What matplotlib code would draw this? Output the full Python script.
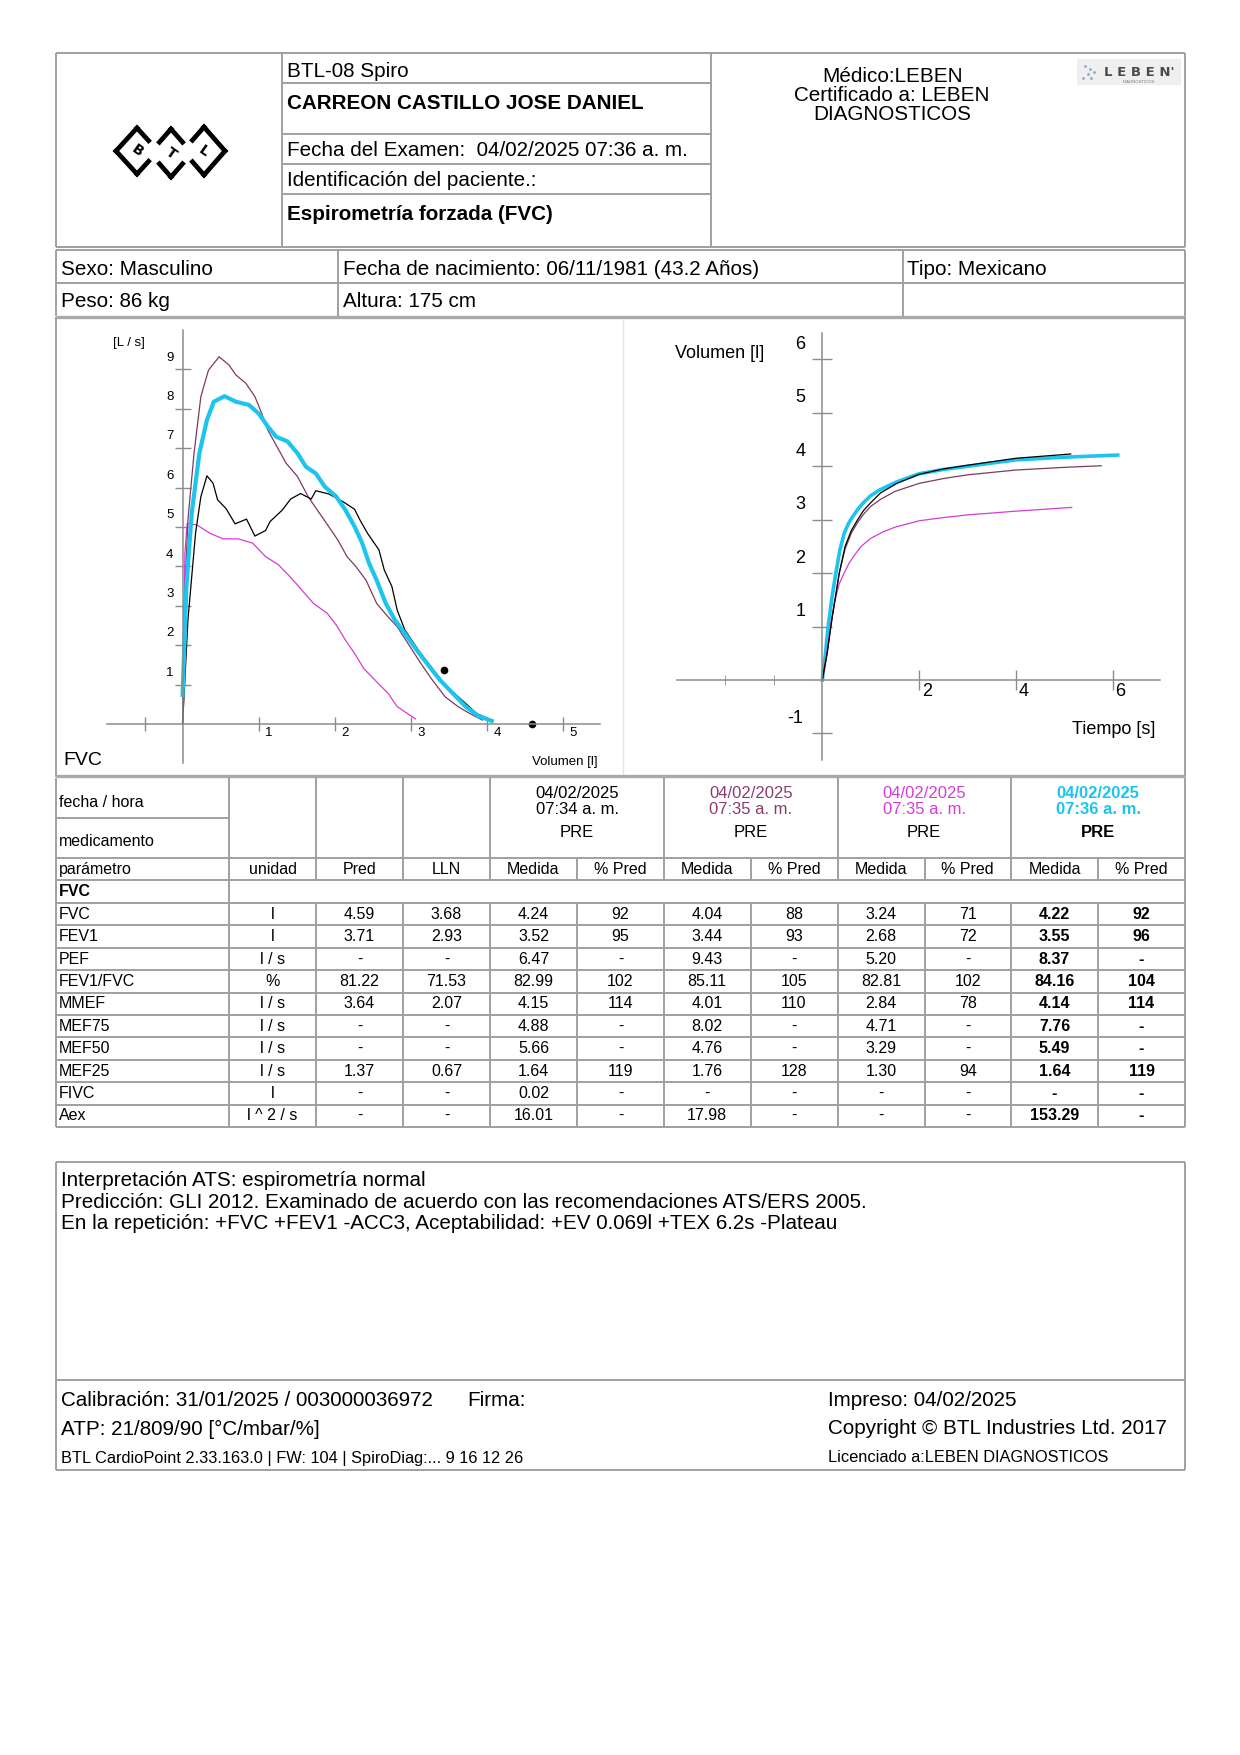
import matplotlib
matplotlib.use('Agg')
import matplotlib.pyplot as plt

plt.rcParams['font.family'] = ['Liberation Sans', 'DejaVu Sans']

W, H = 1240, 1755

# ---------------- data ----------------
patient_lines = ['BTL-08 Spiro', 'CARREON CASTILLO JOSE DANIEL',
                 'Fecha del Examen:  04/02/2025 07:36 a. m.',
                 'Identificación del paciente.:', 'Espirometría forzada (FVC)']
doctor_lines = 'Médico:LEBEN\nCertificado a: LEBEN\nDIAGNOSTICOS'

trial_dates = ['04/02/2025\n07:34 a. m.', '04/02/2025\n07:35 a. m.',
               '04/02/2025\n07:35 a. m.', '04/02/2025\n07:36 a. m.']
trial_colors = ['#000000', '#8E3A6E', '#D63CD6', '#1DC4EE']

params = ['FVC', 'FEV1', 'PEF', 'FEV1/FVC', 'MMEF', 'MEF75', 'MEF50', 'MEF25', 'FIVC', 'Aex']
units = ['l', 'l', 'l / s', '%', 'l / s', 'l / s', 'l / s', 'l / s', 'l', 'l ^ 2 / s']
pred = ['4.59', '3.71', '-', '81.22', '3.64', '-', '-', '1.37', '-', '-']
lln = ['3.68', '2.93', '-', '71.53', '2.07', '-', '-', '0.67', '-', '-']
t1_med = ['4.24', '3.52', '6.47', '82.99', '4.15', '4.88', '5.66', '1.64', '0.02', '16.01']
t1_pct = ['92', '95', '-', '102', '114', '-', '-', '119', '-', '-']
t2_med = ['4.04', '3.44', '9.43', '85.11', '4.01', '8.02', '4.76', '1.76', '-', '17.98']
t2_pct = ['88', '93', '-', '105', '110', '-', '-', '128', '-', '-']
t3_med = ['3.24', '2.68', '5.20', '82.81', '2.84', '4.71', '3.29', '1.30', '-', '-']
t3_pct = ['71', '72', '-', '102', '78', '-', '-', '94', '-', '-']
t4_med = ['4.22', '3.55', '8.37', '84.16', '4.14', '7.76', '5.49', '1.64', '-', '153.29']
t4_pct = ['92', '96', '-', '104', '114', '-', '-', '119', '-', '-']

# flow-volume loops (volume l, flow l/s)
fv_black_vol = [0, 0.07, 0.17, 0.24, 0.32, 0.40, 0.46, 0.57, 0.69, 0.84, 0.95, 1.09, 1.15, 1.31, 1.42, 1.55,
                1.69, 1.75, 1.92, 2.11, 2.26, 2.33, 2.43, 2.58, 2.65, 2.75, 2.82, 2.92, 3.11, 3.26, 3.47, 3.67,
                3.86, 4.08]
fv_black_flow = [0, 2.64, 4.84, 5.77, 6.30, 6.11, 5.69, 5.47, 5.08, 5.20, 4.77, 4.91, 5.14, 5.43, 5.71, 5.85,
                 5.71, 5.92, 5.84, 5.64, 5.45, 5.18, 4.84, 4.42, 3.91, 3.49, 2.89, 2.39, 1.84, 1.46, 0.95, 0.61,
                 0.27, 0.08]
fv_maroon_vol = [0, 0.015, 0.07, 0.15, 0.24, 0.34, 0.48, 0.61, 0.70, 0.83, 0.95, 1.04, 1.12, 1.24, 1.36, 1.51,
                 1.65, 1.77, 1.92, 2.04, 2.16, 2.28, 2.41, 2.55, 2.70, 2.82, 2.96, 3.13, 3.28, 3.45, 3.62, 3.77,
                 3.94]
fv_maroon_flow = [0, 2.64, 5.18, 6.87, 8.31, 8.98, 9.32, 9.11, 8.86, 8.65, 8.31, 7.88, 7.46, 7.04, 6.62, 6.28,
                  5.77, 5.43, 5.01, 4.67, 4.25, 3.99, 3.65, 3.06, 2.72, 2.47, 2.05, 1.54, 1.12, 0.69, 0.44, 0.27,
                  0.10]
fv_magenta_vol = [0, 0.03, 0.06, 0.19, 0.36, 0.53, 0.73, 0.92, 1.09, 1.26, 1.43, 1.72, 1.90, 2.02, 2.14, 2.26,
                  2.38, 2.55, 2.70, 2.82, 3.06]
fv_magenta_flow = [0, 4.33, 5.09, 5.05, 4.84, 4.70, 4.70, 4.59, 4.25, 4.04, 3.70, 3.06, 2.81, 2.51, 2.13, 1.79,
                   1.41, 1.07, 0.78, 0.44, 0.13]
fv_cyan_vol = [0, 0.05, 0.12, 0.22, 0.32, 0.41, 0.55, 0.70, 0.87, 1.0, 1.12, 1.23, 1.38, 1.51, 1.62, 1.75, 1.87,
               2.02, 2.14, 2.26, 2.36, 2.45, 2.55, 2.67, 2.79, 2.92, 3.06, 3.21, 3.38, 3.55, 3.72, 3.89, 4.06]
fv_cyan_flow = [0.74, 3.49, 5.35, 6.87, 7.72, 8.18, 8.32, 8.18, 8.10, 7.88, 7.55, 7.29, 7.17, 6.87, 6.53, 6.36,
                6.02, 5.77, 5.43, 5.01, 4.59, 4.08, 3.65, 3.06, 2.64, 2.30, 1.92, 1.54, 1.12, 0.78, 0.44, 0.20, 0.08]
pred_vol = [3.44, 4.59]
pred_flow = [1.37, 0]

# volume-time curves (s, l)
vt_black_t = [0, 0.1, 0.2, 0.28, 0.35, 0.47, 0.6, 0.73, 0.85, 0.98, 1.2, 1.54, 2.0, 2.5, 3, 4, 5.13]
vt_black_v = [0, 0.5, 1.15, 1.6, 2.0, 2.5, 2.8, 3.0, 3.17, 3.3, 3.5, 3.68, 3.85, 3.95, 4.02, 4.15, 4.23]
vt_maroon_t = [0, 0.1, 0.2, 0.28, 0.35, 0.47, 0.6, 0.73, 0.85, 1.0, 1.2, 1.5, 2, 2.5, 3, 4, 5, 5.76]
vt_maroon_v = [0, 0.5, 1.15, 1.6, 2.0, 2.45, 2.75, 2.95, 3.1, 3.25, 3.38, 3.53, 3.68, 3.77, 3.84, 3.93, 3.98, 4.01]
vt_magenta_t = [0, 0.1, 0.17, 0.25, 0.35, 0.45, 0.55, 0.65, 0.8, 1.0, 1.25, 1.5, 2, 2.5, 3, 4, 5.15]
vt_magenta_v = [0, 0.55, 1.0, 1.45, 1.8, 2.0, 2.18, 2.32, 2.5, 2.65, 2.77, 2.86, 2.98, 3.04, 3.09, 3.16, 3.23]
vt_cyan_t = [0, 0.06, 0.12, 0.2, 0.28, 0.36, 0.45, 0.54, 0.63, 0.73, 0.84, 1.0, 1.19, 1.54, 2.0, 2.5, 3.0, 3.5,
             4.0, 5.0, 6.1]
vt_cyan_v = [0, 0.45, 1.0, 1.55, 2.0, 2.42, 2.74, 2.93, 3.06, 3.19, 3.31, 3.45, 3.56, 3.71, 3.86, 3.94, 4.0, 4.06,
             4.12, 4.17, 4.21]

interp_lines = ['Interpretación ATS: espirometría normal',
                'Predicción: GLI 2012. Examinado de acuerdo con las recomendaciones ATS/ERS 2005.',
                'En la repetición: +FVC +FEV1 -ACC3, Aceptabilidad: +EV 0.069l +TEX 6.2s -Plateau']

# ---------------- page ----------------
GRID = '#A0A0A0'
AX = '#8C8C8C'
FH = 14.9
FT = 11.5

fig = plt.figure(figsize=(W / 100, H / 100), dpi=100)
pg = fig.add_axes([0, 0, 1, 1])
pg.set_xlim(0, W)
pg.set_ylim(H, 0)
pg.axis('off')


def hl(y, x0, x1, lw=1.4, c=GRID):
    pg.plot([x0, x1], [y, y], color=c, lw=lw, solid_capstyle='butt')


def vl(x, y0, y1, lw=1.4, c=GRID):
    pg.plot([x, x], [y0, y1], color=c, lw=lw, solid_capstyle='butt')


L, R = 56, 1185

# header block
hl(53, L, R)
hl(247, L, R)
vl(L, 53, 247)
vl(R, 53, 247)
vl(282, 53, 247)
vl(711, 53, 247)
for y in [83, 134, 164, 194]:
    hl(y, 282, 711)
head_y = [71, 103, 150, 180, 214]
for i, (txt, y) in enumerate(zip(patient_lines, head_y)):
    pg.text(287, y, txt, fontsize=FH, va='center', ha='left',
            fontweight='bold' if i in (1, 4) else 'normal')
pg.text(892, 95, doctor_lines, fontsize=FH, ha='center', va='center', linespacing=1.0)

# LEBEN logo
pg.add_patch(plt.Rectangle((1077, 59), 104, 26, color='#EFEFEF', lw=0))
pg.text(1139, 72, 'L E B E N\'', fontsize=9.5, fontweight='bold', color='#4A4A4A',
        ha='center', va='center', family='DejaVu Sans')
pg.text(1139, 81.5, 'DIAGNOSTICOS', fontsize=3, color='#777777', ha='center', va='center')
pg.scatter([1085, 1090, 1088, 1094, 1083, 1091], [66, 69, 74, 72, 78, 78], s=4, color='#8FA8C0', lw=0)


# BTL logo (three open diamonds)
def diamond(cx, cy, rx, ry, open_left, open_right, letter):
    top, bot, lef, rig = (cx, cy - ry), (cx, cy + ry), (cx - rx, cy), (cx + rx, cy)
    f = 0.55
    for end, is_open in [(lef, open_left), (rig, open_right)]:
        for start in (top, bot):
            if is_open:
                e = (start[0] + f * (end[0] - start[0]), start[1] + f * (end[1] - start[1]))
            else:
                e = end
            pg.plot([start[0], e[0]], [start[1], e[1]], color='black', lw=3.4,
                    solid_capstyle='projecting')
    pg.text(cx, cy, letter, fontsize=10, fontweight='bold', ha='center', va='center',
            rotation=-35, family='DejaVu Sans')


diamond(137, 151, 21, 23, False, True, 'B')
diamond(171, 153, 21, 24, True, True, 'T')
diamond(204, 151, 21, 24, True, False, 'L')

# patient rows
hl(250, L, R)
hl(283, L, R)
vl(L, 250, 316)
vl(R, 250, 316)
vl(338, 250, 316)
vl(903, 250, 316)
pg.text(61, 269, 'Sexo: Masculino', fontsize=FH, va='center')
pg.text(343, 269, 'Fecha de nacimiento: 06/11/1981 (43.2 Años)', fontsize=FH, va='center')
pg.text(907, 269, 'Tipo: Mexicano', fontsize=FH, va='center')
pg.text(61, 301, 'Peso: 86 kg', fontsize=FH, va='center')
pg.text(343, 301, 'Altura: 175 cm', fontsize=FH, va='center')
hl(317, L, R, lw=2.4, c='#AAAAAA')

# chart region frame
vl(L, 317, 777)
vl(R, 317, 777)
vl(623, 320, 774, lw=1.0, c='#E4E4E4')
hl(776, L, R, lw=2.4, c='#AAAAAA')


# ---------------- flow-volume chart ----------------
def chart_axes(ox, oy, sx, sy, xlim, ylim):
    x0 = ox + xlim[0] * sx
    x1 = ox + xlim[1] * sx
    ytop = oy - ylim[1] * sy
    ybot = oy - ylim[0] * sy
    ax = fig.add_axes([x0 / W, 1 - ybot / H, (x1 - x0) / W, (ybot - ytop) / H])
    ax.set_xlim(*xlim)
    ax.set_ylim(*ylim)
    ax.patch.set_alpha(0)
    for s in ['top', 'right']:
        ax.spines[s].set_visible(False)
    for s in ['left', 'bottom']:
        ax.spines[s].set_position(('data', 0))
        ax.spines[s].set_color(AX)
        ax.spines[s].set_linewidth(1.1)
    ax.tick_params(labelleft=False, labelbottom=False, colors=AX, direction='inout', width=1.0)
    return ax


ax1 = chart_axes(182.6, 724, 76.1, 39.4, (-1.0, 5.49), (-1.0, 10.0))
fv_xticks = [1, 2, 3, 4, 5]
fv_yticks = [1, 2, 3, 4, 5, 6, 7, 8, 9]
ax1.set_xticks([-0.5] + fv_xticks)
ax1.set_yticks(fv_yticks)
ax1.tick_params(axis='x', length=10)
ax1.tick_params(axis='y', length=11.5)
for v in fv_xticks:
    ax1.text(v + 0.13, -0.24, str(v), fontsize=9.5, ha='center', va='center')
for v in fv_yticks:
    ax1.text(-0.17, v + 0.3, str(v), fontsize=9.5, ha='center', va='center')
ax1.text(-0.71, 9.66, '[L / s]', fontsize=9.5, ha='center', va='center')

ax1.plot(fv_magenta_vol, fv_magenta_flow, color=trial_colors[2], lw=0.9)
ax1.plot(fv_maroon_vol, fv_maroon_flow, color='#7E3A60', lw=0.9)
ax1.plot(fv_black_vol, fv_black_flow, color='black', lw=0.9)
ax1.plot(fv_cyan_vol, fv_cyan_flow, color=trial_colors[3], lw=3.0, solid_joinstyle='round')
ax1.plot(pred_vol, pred_flow, 'o', color='black', ms=4.5, clip_on=False)

pg.text(63, 760, 'FVC', fontsize=14, ha='left', va='center')
pg.text(532, 762, 'Volumen [l]', fontsize=9.5, ha='left', va='center')

# ---------------- volume-time chart ----------------
ax2 = chart_axes(822.3, 680, 48.43, 53.43, (-3.0, 6.98), (-1.5, 6.49))
vt_xticks = [2, 4, 6]
vt_yticks = [-1, 1, 2, 3, 4, 5, 6]
ax2.set_xticks(vt_xticks)
ax2.set_xticks([-2, -1], minor=True)
ax2.set_yticks(vt_yticks)
ax2.tick_params(axis='x', which='major', length=14.5)
ax2.tick_params(axis='x', which='minor', length=7, colors=AX, direction='inout')
ax2.tick_params(axis='y', length=14.5)
for v in vt_xticks:
    ax2.text(v + 0.16, -0.22, str(v), fontsize=13, ha='center', va='center')
for v in vt_yticks:
    ax2.text(-0.45 if v > 0 else -0.55, v + 0.28, str(v), fontsize=13, ha='center', va='center')

ax2.plot(vt_cyan_t, vt_cyan_v, color=trial_colors[3], lw=2.6, solid_joinstyle='round')
ax2.plot(vt_magenta_t, vt_magenta_v, color=trial_colors[2], lw=0.9)
ax2.plot(vt_maroon_t, vt_maroon_v, color='#7E3A60', lw=0.9)
ax2.plot(vt_black_t, vt_black_v, color='black', lw=0.9)

pg.text(675, 353, 'Volumen [l]', fontsize=13, ha='left', va='center')
pg.text(1072, 730, 'Tiempo [s]', fontsize=13, ha='left', va='center')

# ---------------- table ----------------
col_x = [56, 229, 316, 403, 490, 577, 664, 750.5, 837.5, 924.5, 1011, 1098, 1185]
T0, T_mid, T_hdr, T_par, T_sec = 778, 818, 858, 880, 903
ROW = 22.4
n = len(params)
row_y = [T_sec + i * ROW for i in range(n + 1)]
T_end = row_y[-1]

for y in [T_hdr, T_par, T_sec] + row_y[1:]:
    hl(y, L, R)
hl(T_mid, L, 229)
vl(L, T0, T_end)
vl(R, T0, T_end)
vl(229, T0, T_end)
for x in [316, 403, 490, 664, 837.5, 1011]:
    vl(x, T0, T_par)
    vl(x, T_sec, T_end)
for x in [577, 750.5, 924.5, 1098]:
    vl(x, T_hdr, T_par)
    vl(x, T_sec, T_end)

pg.text(59, 802, 'fecha / hora', fontsize=FT, va='center')
pg.text(59, 841, 'medicamento', fontsize=FT, va='center')
pg.text(59, 869, 'parámetro', fontsize=FT, va='center')
pg.text(59, 891.5, 'FVC', fontsize=FT, va='center', fontweight='bold')

header = ['unidad', 'Pred', 'LLN'] + ['Medida', '% Pred'] * 4
for i, h in enumerate(header):
    pg.text((col_x[i + 1] + col_x[i + 2]) / 2, 869, h, fontsize=FT, ha='center', va='center')

for k, (d, c) in enumerate(zip(trial_dates, trial_colors)):
    cx = (col_x[4 + 2 * k] + col_x[6 + 2 * k]) / 2
    bold = 'bold' if k == 3 else 'normal'
    pg.text(cx, 801.5, d, fontsize=FT + 0.5, color=c, ha='center', va='center',
            linespacing=1.05, fontweight=bold)
    pg.text(cx, 832, 'PRE', fontsize=FT + 0.5, ha='center', va='center', fontweight=bold)

columns = [units, pred, lln, t1_med, t1_pct, t2_med, t2_pct, t3_med, t3_pct, t4_med, t4_pct]
for r in range(n):
    yc = (row_y[r] + row_y[r + 1]) / 2
    pg.text(59, yc, params[r], fontsize=FT, va='center')
    for j, col in enumerate(columns):
        cx = (col_x[j + 1] + col_x[j + 2]) / 2
        pg.text(cx, yc, col[r], fontsize=FT, ha='center', va='center',
                fontweight='bold' if j >= 9 else 'normal')

# ---------------- interpretation / footer ----------------
hl(1162, L, R)
hl(1380, L, R)
hl(1470, L, R)
vl(L, 1162, 1470)
vl(R, 1162, 1470)
for txt, y in zip(interp_lines, [1180, 1202.5, 1223.5]):
    pg.text(61, y, txt, fontsize=FH, va='center')

pg.text(61, 1400, 'Calibración: 31/01/2025 / 003000036972', fontsize=FH, va='center')
pg.text(467, 1400, 'Firma:', fontsize=FH, va='center')
pg.text(828, 1400, 'Impreso: 04/02/2025', fontsize=FH, va='center')
pg.text(61, 1429, 'ATP: 21/809/90 [°C/mbar/%]', fontsize=FH, va='center')
pg.text(828, 1429, 'Copyright © BTL Industries Ltd. 2017', fontsize=FH, va='center')
pg.text(61, 1458, 'BTL CardioPoint 2.33.163.0 | FW: 104 | SpiroDiag:... 9 16 12 26', fontsize=11.8, va='center')
pg.text(828, 1458, 'Licenciado a:LEBEN DIAGNOSTICOS', fontsize=11.8, va='center')

fig.savefig('out.png', dpi=100, facecolor='white')
